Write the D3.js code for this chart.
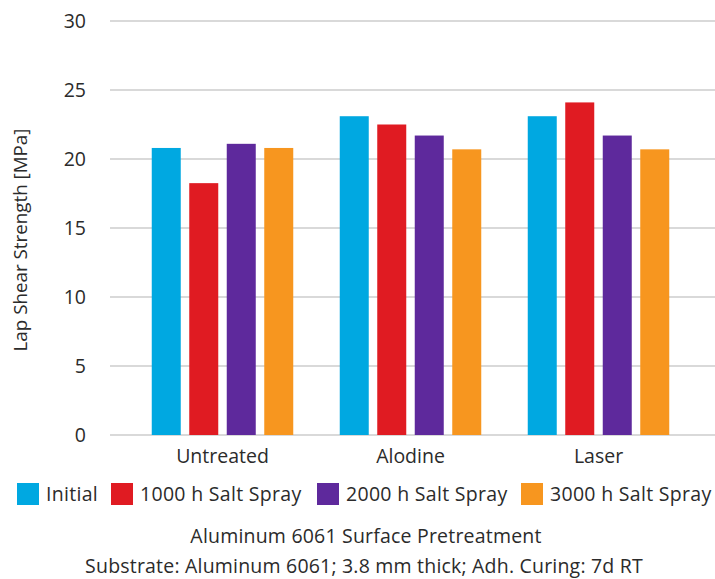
<!DOCTYPE html>
<html>
<head>
<meta charset="utf-8">
<script src="https://cdn.jsdelivr.net/npm/d3@7"></script>
<style>
  html, body { margin: 0; padding: 0; background: #fff; }
  svg { display: block; font-family: "Open Sans", "Noto Sans", sans-serif; }
</style>
</head>
<body>
<svg id="chart" width="715" height="579"></svg>
<script>
// Lap shear strength after salt spray exposure, by surface pretreatment
const categories = ["Untreated", "Alodine", "Laser"];
const seriesNames = ["Initial", "1000 h Salt Spray", "2000 h Salt Spray", "3000 h Salt Spray"];
const initial = [20.8, 23.1, 23.1];
const salt1000 = [18.25, 22.5, 24.1];
const salt2000 = [21.1, 21.7, 21.7];
const salt3000 = [20.8, 20.7, 20.7];
const seriesValues = [initial, salt1000, salt2000, salt3000];
const yTicks = [0, 5, 10, 15, 20, 25, 30];
const colors = ["#00a8e1", "#e01b22", "#5e299c", "#f7961f"];
const yTitle = "Lap Shear Strength [MPa]";
const xTitle = "Aluminum 6061 Surface Pretreatment";
const subTitle = "Substrate: Aluminum 6061; 3.8 mm thick; Adh. Curing: 7d RT";

const svg = d3.select("#chart");
const textColor = "#2b2b2b";

const plot = { left: 110, right: 715, top: 21, bottom: 435 };

const y = d3.scaleLinear().domain([0, 30]).range([plot.bottom, plot.top]);
const x0 = d3.scaleBand().domain(categories).range([128.5, 692.5]).padding(0);
const inner = 141.5;
const x1 = d3.scaleBand().domain(seriesNames)
  .range([(x0.bandwidth() - inner) / 2, (x0.bandwidth() + inner) / 2])
  .paddingInner(0.2267).paddingOuter(0);

// Gridlines
svg.append("g")
  .selectAll("line")
  .data(yTicks)
  .join("line")
  .attr("x1", plot.left).attr("x2", plot.right)
  .attr("y1", d => y(d)).attr("y2", d => y(d))
  .attr("stroke", "#cccccc").attr("stroke-width", 1.5);

// Y axis labels
const yAxis = d3.axisLeft(y).tickValues(yTicks).tickSize(0).tickPadding(0);
const yg = svg.append("g").attr("transform", `translate(86,0)`).call(yAxis);
yg.select(".domain").remove();
yg.selectAll("text")
  .attr("font-size", 19.5).attr("fill", textColor)
  .attr("font-family", "'Open Sans', sans-serif");

// Bars
const rows = categories.map((c, i) => ({
  cat: c,
  vals: seriesNames.map((s, j) => ({ s, v: seriesValues[j][i], color: colors[j] }))
}));
svg.append("g")
  .selectAll("g")
  .data(rows)
  .join("g")
  .attr("transform", d => `translate(${x0(d.cat)},0)`)
  .selectAll("rect")
  .data(d => d.vals)
  .join("rect")
  .attr("x", d => x1(d.s))
  .attr("width", x1.bandwidth())
  .attr("y", d => y(d.v))
  .attr("height", d => y(0) - y(d.v))
  .attr("fill", d => d.color);

// Category axis
const xAxis = d3.axisBottom(x0).tickSize(0).tickPadding(0);
const xg = svg.append("g").attr("transform", `translate(0,${plot.bottom + 28})`).call(xAxis);
xg.select(".domain").remove();
xg.selectAll("text")
  .attr("dy", 0)
  .attr("font-size", 19.5).attr("fill", textColor)
  .attr("font-family", "'Open Sans', sans-serif");

// Y axis title
svg.append("text")
  .attr("transform", "translate(27,240) rotate(-90)")
  .attr("text-anchor", "middle")
  .attr("font-size", 18.8).attr("fill", textColor)
  .text(yTitle);

// Legend
const legendX = [17, 111, 317, 521];
const lg = svg.append("g");
seriesNames.forEach((s, j) => {
  lg.append("rect")
    .attr("x", legendX[j]).attr("y", 483)
    .attr("width", 22).attr("height", 22)
    .attr("fill", colors[j]);
  lg.append("text")
    .attr("x", legendX[j] + 29).attr("y", 501)
    .attr("font-size", 19.5).attr("letter-spacing", 0.3).attr("fill", textColor)
    .text(s);
});

// Bottom titles
svg.append("text")
  .attr("x", 366).attr("y", 543)
  .attr("text-anchor", "middle")
  .attr("font-size", 19.5).attr("letter-spacing", 0.2).attr("fill", textColor)
  .text(xTitle);
svg.append("text")
  .attr("x", 364).attr("y", 573)
  .attr("text-anchor", "middle")
  .attr("font-size", 19.5).attr("letter-spacing", 0.2).attr("fill", textColor)
  .text(subTitle);
</script>
</body>
</html>
